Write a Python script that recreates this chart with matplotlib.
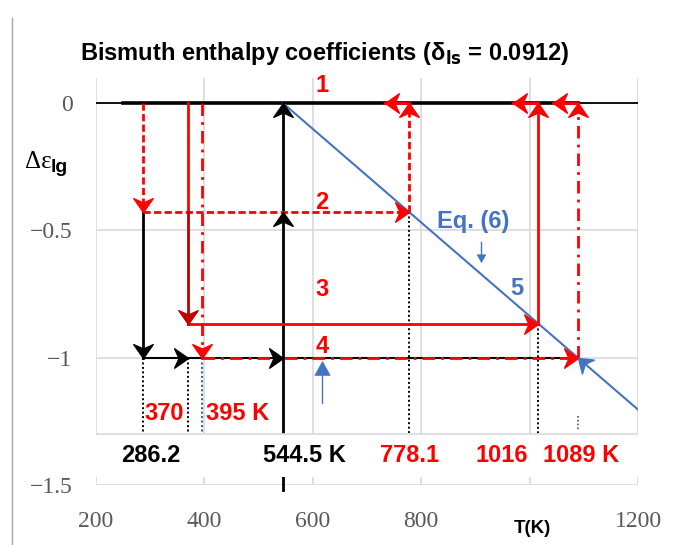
import matplotlib
matplotlib.use('Agg')
import matplotlib.pyplot as plt
import numpy as np
from matplotlib.lines import Line2D
from matplotlib.patches import Rectangle
from matplotlib.markers import MarkerStyle
from matplotlib.path import Path
from matplotlib.transforms import Affine2D

# ---------------- data ----------------
x_ticks = [200, 400, 600, 800, 1000, 1200]
x_ticklabels = ['200', '400', '600', '800', '', '1200']
y_ticks = [0, -0.5, -1, -1.5]
y_ticklabels = ['0', '\u22120.5', '\u22121', '\u22121.5']

T_286 = 286.2
T_370 = 370.0
T_395 = 395.0
T_melt = 544.5
T_778 = 778.1
T_1016 = 1016.0
T_1089 = 1089.0

L1 = 0.0
L2 = -0.429
L3 = -0.866
L4 = -1.0
L_box = -1.30   # top of the label band

eq6_T = [544.5, 1200.0]
eq6_eps = [0.0, -1.204]

back_T = [733.0, 969.0, 1043.0]   # tips of the short leftward arrows on line 1

step_labels = ['1', '2', '3', '4']
step_levels = [0.07, -0.39, -0.733, -0.955]

RED = '#FF0000'
DRED = '#C00000'
BLUE = '#4472C4'
GRID = '#D9D9D9'
TICK = '#595959'

# ---------------- figure ----------------
fig = plt.figure(figsize=(6.75, 5.45), dpi=100)
ax = fig.add_axes([96/675, 1-485/545, 542/675, 407/545])
ax.set_xlim(200, 1200)
ax.set_ylim(-1.5, 0.098)
for s in ax.spines.values():
    s.set_visible(False)
ax.set_xticks(x_ticks)
ax.set_xticklabels(x_ticklabels)
ax.set_yticks(y_ticks)
ax.set_yticklabels(y_ticklabels)
ax.tick_params(length=0, labelsize=17, labelcolor=TICK, pad=17)
ax.tick_params(axis='x', pad=19)
for lab in ax.get_xticklabels() + ax.get_yticklabels():
    lab.set_fontfamily('Liberation Serif')
ax.grid(True, color=GRID, lw=1.2, zorder=0)
ax.set_axisbelow(True)

LW = 2.0
dash = (0, (2.6, 1.2))
dashdot = (0, (4.5, 2.2, 1.0, 2.2))

STEALTH = Path([(0, 0), (-1, 0.7), (-0.68, 0), (-1, -0.7), (0, 0)],
               [Path.MOVETO, Path.LINETO, Path.LINETO, Path.LINETO, Path.CLOSEPOLY])
TRI = Path([(0, 0), (-1, 0.55), (-1, -0.55), (0, 0)],
           [Path.MOVETO, Path.LINETO, Path.LINETO, Path.CLOSEPOLY])
ANG = {'right': 0, 'up': 90, 'left': 180, 'down': 270}


def head(x, y, d, color, ms=20, shape=STEALTH, z=6, mew=1.0):
    ang = ANG[d] if isinstance(d, str) else d
    m = MarkerStyle(shape, transform=Affine2D().rotate_deg(ang))
    ax.plot([x], [y], marker=m, ms=ms, color=color, mec=color, mew=mew,
            ls='none', zorder=z, clip_on=False)

# black horizontal line 1 (y = 0)
ax.plot([200, 1200], [L1, L1], color='black', lw=1.3, zorder=3)
ax.plot([250, T_1089], [L1, L1], color='black', lw=2.6, zorder=3)

# Eq. (6) line
ax.plot(eq6_T, eq6_eps, color=BLUE, lw=1.5, zorder=4)
p_end = ax.transData.transform((eq6_T[1], eq6_eps[1]))
p_tip = ax.transData.transform((T_1089, L4))
blue_ang = np.degrees(np.arctan2(p_tip[1] - p_end[1], p_tip[0] - p_end[0]))
head(T_1089, L4, blue_ang, BLUE, ms=19, z=7)

# black path
ax.plot([T_286, T_286], [L2, L4], color='black', lw=LW, zorder=4)
head(T_286, L4, 'down', 'black')
ax.plot([T_286, T_1089], [L4, L4], color='black', lw=1.5, zorder=3)
head(T_370, L4, 'right', 'black')
head(T_melt, L4, 'right', 'black')
ax.plot([T_melt, T_melt], [-1.52, L1], color='black', lw=LW, zorder=4, clip_on=False)
head(T_melt, L2, 'up', 'black')
head(T_melt, L1, 'up', 'black')

# red dashed path (2)
ax.plot([T_286, T_286], [L1, L2], color=RED, lw=LW, ls=dash, zorder=5)
head(T_286, L2, 'down', RED)
ax.plot([T_286, T_778], [L2, L2], color=RED, lw=LW, ls=dash, zorder=5)
head(T_778, L2, 'right', RED)
ax.plot([T_778, T_778], [L2, L1], color=RED, lw=LW, ls=dash, zorder=5)
head(T_778, L1, 'up', RED)

# red solid path (3)
ax.plot([T_370, T_370], [L1, L2], color=RED, lw=LW, zorder=5)
ax.plot([T_370, T_370], [L2, L3], color=DRED, lw=LW, zorder=5)
head(T_370, L3, 'down', DRED)
ax.plot([T_370, T_1016], [L3, L3], color=RED, lw=LW, zorder=5)
head(T_1016, L3, 'right', RED)
ax.plot([T_1016, T_1016], [L3, L1], color=RED, lw=LW, zorder=5)
head(T_1016, L1, 'up', RED)

# red dash-dot path (4)
ax.plot([T_395, T_395], [L1, L4], color=RED, lw=LW, ls=dashdot, zorder=5)
head(T_395, L4, 'down', RED)
ax.plot([T_395, T_1089], [L4, L4], color=RED, lw=LW, ls=dashdot, zorder=5)
head(T_1089, L4, 'right', RED)
ax.plot([T_1089, T_1089], [L4, L1], color=RED, lw=LW, ls=dashdot, zorder=5)
head(T_1089, L1, 'up', RED)

# short leftward arrows along line 1
for t0, t1 in zip([T_778, T_1016, T_1089], back_T):
    ax.plot([t0, t1], [L1, L1], color=RED, lw=LW, zorder=5)
    head(t1, L1, 'left', RED)

# dotted drop lines
for t, lv, c in [(T_286, L4, 'black'), (T_370, L4, 'black'), (T_395, L4, '#2F5597'),
                 (T_778, L2, 'black'), (T_1016, L3, 'black')]:
    ax.plot([t, t], [lv, L_box], color=c, lw=1.4, ls=(0, (1, 1.3)), zorder=3)
ax.plot([T_1089, T_1089], [-1.23, -1.285], color='#555555', lw=1.2, ls=(0, (1, 1.3)), zorder=3)

# white label band
ax.add_patch(Rectangle((200, -1.467), 1000, L_box + 1.467, facecolor='white',
                       edgecolor='none', zorder=7.2))
ax.plot([200, 1200], [L_box, L_box], color=GRID, lw=1.2, zorder=7.5)

# blue annotations
ax.text(896, -0.467, 'Eq. (6)', color=BLUE, fontsize=17, fontweight='bold',
        fontfamily='Liberation Sans', ha='center', va='center', zorder=8)
ax.plot([910, 910], [-0.545, -0.61], color=BLUE, lw=1.0, zorder=8)
head(910, -0.624, 'down', BLUE, ms=11, shape=TRI, z=8, mew=0.5)
ax.text(977, -0.727, '5', color=BLUE, fontsize=17, fontweight='bold',
        fontfamily='Liberation Sans', ha='center', va='center', zorder=8)
ax.plot([617, 617], [-1.18, -1.04], color=BLUE, lw=1.0, zorder=8)
head(617, -1.015, 'up', BLUE, ms=20, shape=TRI, z=8, mew=0.5)

# step numbers
for s, lv in zip(step_labels, step_levels):
    ax.text(617, lv, s, color=RED, fontsize=17, fontweight='bold',
            fontfamily='Liberation Sans', ha='center', va='center', zorder=8)

# temperature labels
lab_kw = dict(fontsize=17, fontweight='bold', fontfamily='Liberation Sans',
              ha='center', va='center', zorder=9)
ax.text(326, -1.22, '370', color=RED, **lab_kw)
ax.text(462, -1.22, '395 K', color=RED, **lab_kw)
ax.text(300.5, -1.386, '286.2', color='black', **lab_kw)
ax.text(584, -1.386, '544.5 K', color='black', **lab_kw)
ax.text(779, -1.386, '778.1', color=RED, **lab_kw)
ax.text(949, -1.386, '1016', color=RED, **lab_kw)
ax.text(1095, -1.386, '1089 K', color=RED, **lab_kw)

# axis title T(K)
ax.text(1006, -1.67, 'T(K)', color='black', fontsize=13.5, fontweight='bold',
        fontfamily='Liberation Sans', ha='center', va='center', clip_on=False)

# y label
fig.text(25/675, 1-168/545, '\u0394\u03b5', fontsize=18, fontfamily='Liberation Serif',
         ha='left', va='baseline', color='black')
fig.text(51/675, 1-172/545, 'lg', fontsize=14, fontweight='bold',
         fontfamily='Liberation Sans', ha='left', va='baseline', color='black')

# title
fig.text(325/675, 1-60/545, r'Bismuth enthalpy coefficients (δ$_{\mathbf{ls}}$ = 0.0912)',
         fontsize=17, fontweight='bold', fontfamily='Liberation Sans',
         ha='center', va='baseline')

# left border
fig.add_artist(Line2D([12/675, 12/675], [0, 1-18/545], color='#A6A6A6', lw=1.0))

fig.savefig('out.png', dpi=100)
